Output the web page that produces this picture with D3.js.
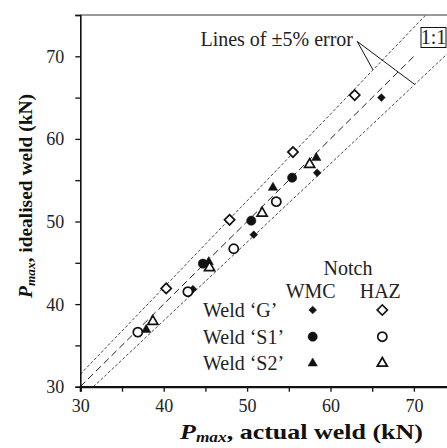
<!DOCTYPE html>
<html>
<head>
<meta charset="utf-8">
<script src="https://cdn.jsdelivr.net/npm/d3@7"></script>
<style>
  body { margin: 0; background: #fff; }
  svg { display: block; font-family: "Liberation Serif", "Times New Roman", serif; }
</style>
</head>
<body>
<div id="chart"></div>
<script>
// values: [actual weld, idealised weld] in kN
const gWmc  = [[66.1, 65.0], [58.4, 55.9], [50.8, 48.4], [43.5, 41.8]];
const gHaz  = [[62.9, 65.3], [55.5, 58.4], [47.9, 50.2], [40.3, 41.9]];
const s1Wmc = [[55.4, 55.3], [50.5, 50.1], [44.7, 44.9]];
const s1Haz = [[53.5, 52.4], [48.4, 46.7], [42.9, 41.5], [36.9, 36.6]];
const s2Wmc = [[58.3, 57.7], [53.1, 54.1], [45.4, 45.1], [37.9, 36.9]];
const s2Haz = [[57.5, 56.9], [51.8, 51.0], [45.5, 44.4], [38.7, 37.9]];

const welds = ["Weld ‘G’", "Weld ‘S1’", "Weld ‘S2’"];
const notches = ["WMC", "HAZ"];
const majorTicks = [30, 40, 50, 60, 70];
const minorTicks = [35, 45, 55, 65];
const errorBand = [1.05, 0.95];

const width = 447, height = 448;

const svg = d3.select("#chart").append("svg")
    .attr("width", width)
    .attr("height", height);

const x = d3.scaleLinear().domain([30, 75]).range([80.3, 455.6]);
const y = d3.scaleLinear().domain([30, 75]).range([386.7, 15]);

const series = [
    { weld: 0, notch: 0, shape: "diamond",  pts: gWmc },
    { weld: 0, notch: 1, shape: "diamond",  pts: gHaz },
    { weld: 1, notch: 0, shape: "circle",   pts: s1Wmc },
    { weld: 1, notch: 1, shape: "circle",   pts: s1Haz },
    { weld: 2, notch: 0, shape: "triangle", pts: s2Wmc },
    { weld: 2, notch: 1, shape: "triangle", pts: s2Haz }
];

function marker(sel, shape, filled) {
    let sym, size, rot = 0;
    if (shape === "diamond") { sym = d3.symbolSquare; size = filled ? 30 : 52; rot = 45; }
    else if (shape === "circle") { sym = d3.symbolCircle; size = filled ? 68 : 66; }
    else { sym = d3.symbolTriangle; size = filled ? 38 : 44; }
    sel.append("path")
        .attr("d", d3.symbol().type(sym).size(size)())
        .attr("transform", `rotate(${rot})`)
        .attr("fill", filled ? "#111" : "#fff")
        .attr("stroke", "#111")
        .attr("stroke-width", filled ? 0.5 : 1.7);
}

const plot = svg.append("g");

// clip so reference lines stop at the frame
svg.append("defs").append("clipPath").attr("id", "clip")
    .append("rect").attr("x", 80.3).attr("y", 15).attr("width", 400).attr("height", 372);

const lines = plot.append("g").attr("clip-path", "url(#clip)");

lines.append("line")
    .attr("x1", x(30)).attr("y1", y(30))
    .attr("x2", x(70.3)).attr("y2", y(70.3))
    .attr("stroke", "#222").attr("stroke-width", 1)
    .attr("stroke-dasharray", "7,4");

errorBand.forEach(k => {
    const x0 = Math.max(30, 30 / k), x1 = Math.min(75, 75 / k);
    lines.append("line")
        .attr("x1", x(x0)).attr("y1", y(k * x0))
        .attr("x2", x(x1)).attr("y2", y(k * x1))
        .attr("stroke", "#333").attr("stroke-width", 0.9)
        .attr("stroke-dasharray", "3,2");
});

// leader lines for the ±5% label
const leadStart = [63.2, 71.8];
const leadEnds = [[65.1, 65.1 * 1.05], [70.1, 70.1 * 0.95]];
leadEnds.forEach(e => {
    plot.append("line")
        .attr("x1", x(leadStart[0])).attr("y1", y(leadStart[1]))
        .attr("x2", x(e[0])).attr("y2", y(e[1]))
        .attr("stroke", "#111").attr("stroke-width", 1);
});

plot.append("text")
    .attr("x", x(62.7)).attr("y", y(71.2))
    .attr("text-anchor", "end")
    .style("font-size", "20px").style("fill", "#222")
    .text("Lines of ±5% error");

const oneBox = plot.append("g");
oneBox.append("rect")
    .attr("x", 421).attr("y", 27.5).attr("width", 25).attr("height", 20)
    .attr("fill", "#fff").attr("stroke", "#111").attr("stroke-width", 1);
oneBox.append("text")
    .attr("x", 433.5).attr("y", 44)
    .attr("text-anchor", "middle")
    .style("font-size", "20px").style("fill", "#222")
    .text("1:1");

// points
series.forEach(s => {
    plot.append("g").selectAll("g")
        .data(s.pts)
        .join("g")
        .attr("transform", d => `translate(${x(d[0])},${y(d[1])})`)
        .each(function () { marker(d3.select(this), s.shape, s.notch === 0); });
});

// frame and axes
svg.append("line")
    .attr("x1", x(30)).attr("x2", width).attr("y1", y(75)).attr("y2", y(75))
    .attr("stroke", "#777").attr("stroke-width", 1.5);

const tickVals = majorTicks.concat(minorTicks).concat([75]);

const xAxis = svg.append("g")
    .attr("transform", `translate(0,${y(30)})`)
    .call(d3.axisBottom(x).tickValues(tickVals).tickSize(5).tickFormat(d => majorTicks.includes(d) ? d : ""));
xAxis.select(".domain").attr("stroke", "#111").attr("stroke-width", 2.2);
xAxis.selectAll(".tick line").attr("stroke", "#111").attr("stroke-width", 1.3);
xAxis.selectAll(".tick text")
    .attr("y", 13).attr("dy", "0.71em")
    .style("font-family", "Liberation Serif, serif").style("font-size", "18px").style("fill", "#222");

const yAxis = svg.append("g")
    .attr("transform", `translate(${x(30)},0)`)
    .call(d3.axisLeft(y).tickValues(tickVals).tickSize(5).tickFormat(d => majorTicks.includes(d) ? d : ""));
yAxis.select(".domain").attr("stroke", "#111").attr("stroke-width", 1.6);
yAxis.selectAll(".tick line").attr("stroke", "#111").attr("stroke-width", 1.3);
yAxis.selectAll(".tick text")
    .attr("x", -16).attr("dy", "0.33em")
    .style("font-family", "Liberation Serif, serif").style("font-size", "18px").style("fill", "#222");

// axis titles
function title(g, rest, size, len) {
    const t = g.append("text")
        .attr("text-anchor", "middle")
        .attr("textLength", len)
        .attr("lengthAdjust", "spacingAndGlyphs")
        .style("font-size", size + "px").style("font-weight", "bold").style("fill", "#111");
    t.append("tspan").style("font-style", "italic").text("P");
    t.append("tspan").style("font-style", "italic").style("font-size", Math.round(size * 0.68) + "px")
        .attr("dy", 3).text("max");
    t.append("tspan").attr("dy", -3).text(rest);
}

title(svg.append("g").attr("transform", "translate(301.5,439)"), ", actual weld (kN)", 21, 243);
title(svg.append("g").attr("transform", "translate(32,196) rotate(-90)"), ", idealised weld (kN)", 19, 204);

// legend
const legend = svg.append("g").style("fill", "#222");
const colX = [312.7, 382.3];
const rowY = [310, 336.7, 363.3];
legend.append("text")
    .attr("x", 348).attr("y", 275).attr("text-anchor", "middle")
    .style("font-size", "20px").text("Notch");
notches.forEach((n, i) => {
    legend.append("text")
        .attr("x", colX[i] - 2).attr("y", 298).attr("text-anchor", "middle")
        .style("font-size", "20px").text(n);
});
welds.forEach((w, i) => {
    legend.append("text")
        .attr("x", 203).attr("y", rowY[i] + 7)
        .style("font-size", "20px").text(w);
});
series.forEach(s => {
    const g = legend.append("g")
        .attr("transform", `translate(${colX[s.notch]},${rowY[s.weld]})`);
    marker(g, s.shape, s.notch === 0);
});
</script>
</body>
</html>
